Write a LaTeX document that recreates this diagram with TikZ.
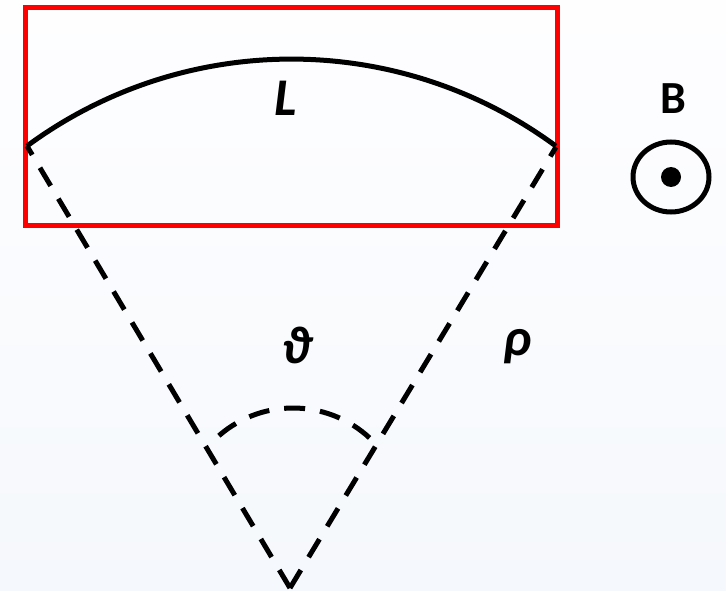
\documentclass[tikz,border=0pt]{standalone}
\usepackage{fontspec}
\setmainfont{Carlito}
\definecolor{bgtop}{RGB}{254,254,255}
\definecolor{bgbot}{RGB}{245,248,252}
\definecolor{boxred}{RGB}{255,0,0}
\begin{document}
\begin{tikzpicture}[x=1pt,y=-1pt,
  lbl/.style={font=\fontsize{53}{53}\selectfont\bfseries\itshape, inner sep=0pt},
  dsh/.style={line width=5pt, dash pattern=on 21pt off 15pt},
  solidline/.style={line width=5pt}]
\shade[top color=bgtop, bottom color=bgbot] (0,0) rectangle (726,591);
\useasboundingbox (0,0) rectangle (726,591);
% geometry
\coordinate (apex) at (290,588);
\coordinate (lend) at (27,146);
\coordinate (rend) at (556,147);
\coordinate (csmall) at (293,521);
% red box
\draw[boxred, line width=5pt] (25,8) rectangle (557,225);
% big arc
\draw[solidline] (lend) arc[start angle=-126.4, end angle=-53.6, radius=445.6];
% radii
\draw[dsh] (apex) -- (lend);
\draw[dsh] (apex) -- (rend);
% small angle arc
\draw[dsh] ([shift={(-131:113)}]csmall) arc[start angle=-131, end angle=-44, radius=113];
% labels
\node[lbl] (L) at (286,98) {L};
\node[lbl] (theta) at (297,345) {ϑ};
\node[lbl] (rho) at (518,347) {ρ};
\node[font=\fontsize{46}{46}\selectfont\bfseries, inner sep=0pt] (B) at (673,99) {B};
% B field out of page
\draw[line width=5pt] (671,177) ellipse[x radius=38, y radius=35];
\fill (671,177) circle[radius=10];
\end{tikzpicture}
\end{document}
